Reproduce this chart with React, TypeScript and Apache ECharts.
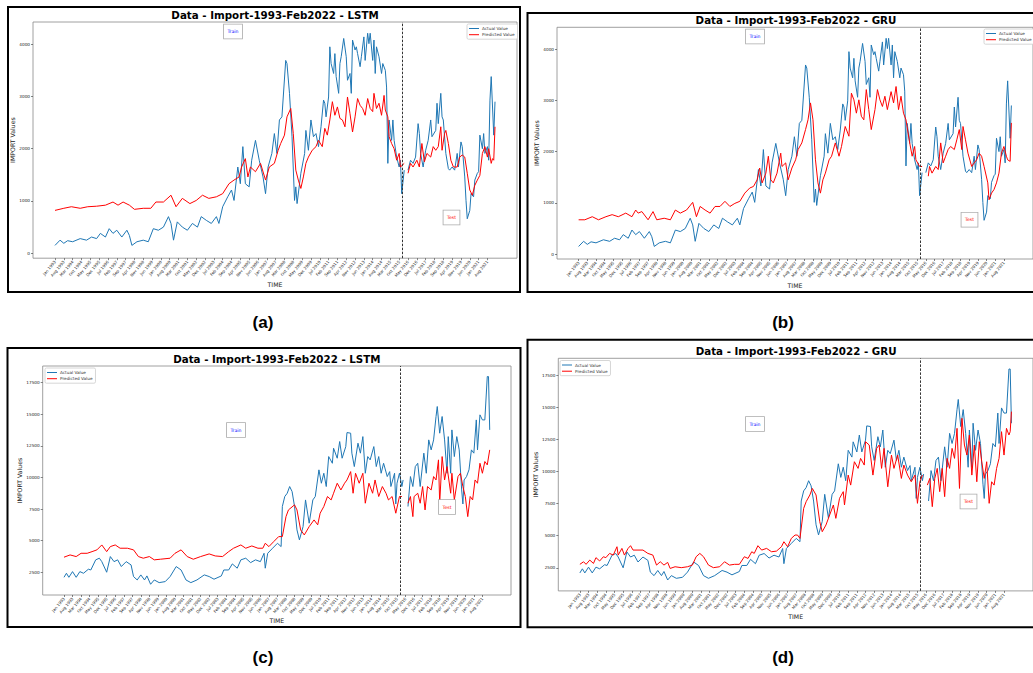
import { useEffect, useRef } from 'react';
import * as echarts from 'echarts';

const MONTHS = ['Jan', 'Feb', 'Mar', 'Apr', 'May', 'Jun', 'Jul', 'Aug', 'Sep', 'Oct', 'Nov', 'Dec'];
const START_YEAR = 1993;
// tick every 7 months, Jan 1993 .. Aug 2021 (month index from Jan 1993)
const X_TICKS: number[] = [];
for (let i = 0; i <= 343; i += 7) X_TICKS.push(i);
const monthLabel = (i: number) => `${MONTHS[i % 12]} ${START_YEAR + Math.floor(i / 12)}`;

const Y_TICKS_AB = [0, 1000, 2000, 3000, 4000];
const Y_TICKS_CD = [2500, 5000, 7500, 10000, 12500, 15000, 17500];
const TRAIN_END = 275.5;

// [month index since Jan 1993, value]
const ACTUAL_AB_TRAIN = [[0,150],[4,250],[7,190],[10,240],[14,220],[20,280],[25,250],[29,310],[33,280],[36,380],[40,310],[43,470],[46,380],[49,440],[53,310],[57,440],[59,340],[61,150],[65,220],[70,250],[74,220],[78,470],[82,440],[86,500],[90,700],[92,570],[94,250],[97,600],[101,500],[105,440],[109,570],[113,500],[116,700],[120,630],[124,570],[128,700],[130,570],[133,890],[137,1080],[140,1210],[142,1010],[145,1650],[147,1330],[149,2040],[151,1330],[154,1270],[156,1780],[159,2160],[162,1780],[165,1460],[167,1140],[169,1650],[172,1910],[174,2290],[176,1910],[178,2550],[180,2610],[183,3690],[184,3630],[186,3060],[188,2230],[190,1010],[191,1270],[192,950],[195,1530],[198,1910],[199,2350],[201,1970],[203,2550],[205,2230],[207,2290],[209,2040],[211,2420],[213,2930],[214,2870],[215,2610],[217,2990],[218,3950],[219,3630],[221,3440],[222,3820],[223,3380],[225,3060],[226,3630],[227,3760],[229,4110],[231,3760],[232,3310],[234,3440],[235,3060],[236,4080],[238,3890],[239,3950],[240,3820],[242,3570],[243,3760],[245,4140],[246,3690],[248,4210],[249,4010],[250,4210],[252,3690],[253,4080],[254,3440],[255,3950],[257,3760],[259,3440],[260,3630],[262,3500],[263,3180],[264,1720],[265,2550],[267,2160],[268,2550],[269,2160],[271,1840],[273,1650],[274,1780],[275,1140],[277,1590]];
const ACTUAL_AB_TEST = [[280,1590],[282,1780],[284,1720],[286,1840],[288,2480],[289,2290],[290,1910],[292,1650],[294,1970],[296,2160],[298,2550],[299,2230],[302,2350],[303,2870],[304,2480],[306,3060],[307,2610],[308,2550],[310,1910],[312,1620],[313,1590],[315,1650],[317,1590],[319,1910],[320,1650],[322,2130],[323,2040],[325,1460],[326,1010],[327,660],[329,820],[330,1140],[332,1080],[333,1400],[335,1530],[336,1560],[337,2260],[339,2000],[340,2290],[341,1910],[343,2040],[344,1780],[345,2930],[346,3380],[348,2260],[349,2900]];

const PRED_A_TRAIN = [[0,820],[7,860],[13,890],[20,860],[26,890],[33,900],[40,920],[46,980],[50,920],[54,980],[59,920],[63,840],[70,860],[76,860],[80,980],[86,980],[92,1110],[96,890],[101,1050],[107,950],[112,1010],[117,1110],[122,1050],[128,1080],[133,1140],[138,1330],[142,1400],[146,1460],[148,1650],[151,1810],[153,1460],[155,1650],[159,1560],[163,1720],[167,1400],[170,1650],[174,1720],[177,1970],[179,2100],[182,2260],[184,2610],[187,2770],[189,2290],[191,1590],[193,1400],[195,1240],[197,1460],[199,1720],[201,1840],[204,1970],[207,2040],[209,2160],[212,2040],[214,2390],[216,2260],[218,2550],[220,2900],[222,2640],[224,2800],[226,2580],[228,2550],[230,2420],[232,2990],[234,2670],[236,2320],[238,2610],[240,2960],[242,2830],[244,2770],[246,2640],[248,2960],[250,2770],[252,2710],[253,3060],[255,2770],[257,2870],[259,2640],[261,3020],[262,2740],[264,2610],[265,2230],[267,2100],[269,2000],[271,1780],[273,1910],[274,1650],[277,1720]];
const PRED_A_TEST = [[280,1530],[282,1720],[284,1650],[287,1780],[289,1650],[291,2100],[293,1750],[295,1910],[298,1840],[300,2040],[302,1970],[304,2040],[306,2420],[307,1970],[309,2290],[310,2350],[312,2100],[314,1780],[316,1650],[319,1650],[321,1840],[323,1880],[325,1840],[327,1530],[329,1210],[331,1110],[333,1300],[335,1400],[337,1490],[339,1910],[341,2040],[343,1840],[344,2000],[346,1720],[347,1810],[348,1780],[349,2420]];

const PRED_B_TRAIN = [[0,670],[5,670],[11,730],[16,670],[22,730],[27,770],[32,730],[38,800],[43,730],[46,860],[48,800],[51,830],[56,670],[60,830],[63,670],[69,700],[74,670],[78,860],[82,800],[87,860],[92,1010],[95,730],[98,930],[102,860],[106,800],[110,930],[114,930],[118,1030],[122,930],[126,990],[130,1030],[134,1190],[138,1290],[141,1320],[144,1450],[146,1680],[148,1390],[151,1580],[153,1910],[155,1450],[157,1390],[160,1580],[163,1970],[164,1710],[167,1780],[169,1450],[172,1680],[175,1840],[177,2040],[180,2170],[183,2430],[185,2620],[187,2950],[189,2620],[191,1840],[193,1390],[195,1190],[197,1450],[199,1580],[202,1840],[204,1910],[207,2170],[210,1910],[212,2100],[215,2490],[218,2300],[220,3140],[222,3010],[224,2750],[226,3010],[228,2690],[230,2620],[232,3210],[234,2820],[236,2430],[239,2820],[241,3210],[243,3010],[245,2880],[247,3080],[249,2820],[252,3170],[254,2950],[256,3270],[258,2820],[260,3080],[262,2750],[264,2620],[267,2170],[269,1910],[271,2100],[272,1840],[275,1710],[277,1710]];
const PRED_B_TEST = [[282,1520],[283,1710],[285,1580],[288,1710],[290,1650],[292,2170],[294,1780],[296,1910],[298,2040],[300,2100],[303,2040],[305,2230],[307,2430],[309,2040],[310,2490],[312,2230],[314,1970],[317,1710],[319,1780],[321,1840],[323,1970],[325,1910],[327,1710],[330,1390],[331,1060],[333,1190],[335,1260],[337,1390],[339,1580],[341,1970],[343,2100],[345,1910],[346,1840],[348,1810],[349,2560]];

const ACTUAL_CD_TRAIN = [[0,2100],[2,2420],[4,2100],[7,2550],[10,2100],[13,2550],[16,2420],[20,2740],[22,2680],[26,3480],[29,3610],[31,3340],[35,2500],[38,3740],[41,3340],[44,3480],[47,2950],[51,3340],[55,3080],[57,2160],[60,1890],[63,2290],[66,1890],[68,2210],[71,1550],[74,1890],[78,1680],[83,1760],[87,2160],[92,2950],[96,2680],[100,1890],[104,1680],[109,1890],[115,2290],[119,2160],[123,1950],[129,2210],[131,2680],[135,2680],[138,3160],[142,2820],[145,3480],[149,3610],[153,3260],[157,3480],[161,3340],[164,4000],[165,2820],[167,4000],[171,4400],[175,4790],[178,4530],[179,7700],[181,8490],[183,8750],[185,9280],[187,8880],[189,7700],[191,5850],[193,5060],[196,6110],[198,8220],[201,6380],[204,8220],[206,8490],[209,10600],[211,9540],[213,10330],[215,9280],[217,11650],[220,11120],[221,12310],[224,11520],[226,12840],[228,11520],[231,12440],[232,13550],[235,13500],[236,11920],[238,10860],[241,12710],[243,11920],[245,13230],[247,10330],[249,11650],[251,11390],[254,12440],[256,10860],[258,11650],[260,10330],[262,11120],[265,10070],[267,10460],[268,9280],[271,10330],[272,7900],[273,9540],[275,10330],[277,9280],[278,9800]];
const ACTUAL_CD_TEST = [[282,7700],[284,10070],[286,9280],[288,10860],[290,11120],[292,9280],[295,11920],[297,10330],[299,12970],[301,12180],[303,12970],[305,14820],[306,15610],[308,13500],[310,14820],[312,12970],[314,10330],[315,13230],[317,10330],[318,13760],[320,11650],[322,13230],[324,12180],[326,9010],[327,7900],[328,9800],[330,10070],[332,10600],[334,12180],[336,11920],[338,14550],[339,12180],[341,14950],[343,14550],[345,14550],[347,17980],[348,17980],[349,13760]];

const PRED_C_TRAIN = [[0,3690],[5,3870],[10,3740],[14,4000],[19,4000],[23,4130],[27,4270],[31,4660],[35,4130],[38,4530],[42,4660],[46,4400],[52,4400],[57,4270],[61,3740],[65,3610],[70,3740],[74,3480],[79,3530],[87,3610],[91,4000],[96,4270],[101,3740],[106,3530],[112,3740],[119,3950],[124,3790],[130,3740],[135,4130],[139,4400],[145,4660],[149,4400],[154,4580],[159,4400],[163,4400],[165,4790],[168,4530],[172,4930],[176,5320],[179,5320],[182,6900],[184,7430],[189,7830],[191,7430],[194,5850],[197,5450],[201,6110],[205,6640],[208,6250],[210,7170],[213,7700],[216,8490],[219,8220],[221,8750],[224,9540],[227,9010],[230,9540],[232,9800],[235,10460],[237,8750],[239,10330],[242,9540],[245,10330],[247,7960],[250,9540],[253,8750],[255,9800],[258,8490],[261,9280],[264,8750],[266,8220],[269,8490],[272,7170],[275,8490],[277,8490]];
const PRED_C_TEST = [[282,7960],[284,8490],[286,6900],[287,8490],[290,8750],[292,7960],[294,9280],[296,7430],[298,9280],[301,9010],[303,10070],[305,9800],[307,11390],[308,7960],[310,11650],[312,9800],[314,10860],[317,8750],[318,10330],[320,8220],[323,10070],[325,10330],[327,9280],[329,8490],[331,6900],[333,8490],[335,8220],[337,9800],[339,9540],[341,11120],[343,10330],[345,11260],[347,10990],[349,12180]];

const PRED_D_TRAIN = [[0,2770],[3,2970],[5,2770],[8,3100],[11,2840],[13,3290],[16,3030],[19,3360],[21,3290],[24,3620],[27,3490],[30,4140],[31,3490],[34,4010],[36,3490],[39,4010],[41,4220],[43,3880],[47,3880],[51,3880],[55,3620],[59,3490],[62,2710],[65,2970],[68,2710],[71,2920],[73,2450],[77,2580],[82,2510],[87,2580],[91,2710],[94,3360],[97,3620],[100,3360],[104,2710],[108,2510],[113,2580],[117,2970],[121,2710],[125,2770],[129,2770],[133,3360],[136,3230],[139,3750],[141,3620],[144,4220],[147,3880],[151,4010],[155,3750],[159,3800],[163,4140],[165,4530],[168,4140],[171,4790],[174,5050],[176,5050],[178,4790],[181,7130],[183,7650],[186,8170],[188,8680],[191,8170],[194,6090],[196,5310],[199,5830],[202,6610],[205,7390],[207,6350],[210,7910],[213,8430],[214,7390],[217,9720],[219,8940],[222,10760],[225,10240],[227,11020],[230,10500],[231,12320],[234,12060],[237,9720],[240,11800],[242,12060],[244,10240],[246,11800],[249,8810],[252,11280],[254,10240],[257,11280],[260,9460],[262,10500],[265,9720],[268,9200],[271,9720],[273,7520],[275,9200],[277,9720]];
const PRED_D_TEST = [[281,8940],[283,9460],[285,7260],[287,9460],[289,10240],[291,8430],[293,10240],[295,8040],[297,11020],[299,10240],[301,11800],[303,11020],[305,13360],[307,8680],[309,14140],[311,12060],[313,11280],[315,12840],[317,9720],[319,12060],[321,9200],[323,12320],[325,10760],[327,9460],[329,10760],[331,7520],[333,9200],[335,8940],[337,10240],[339,11020],[341,13100],[343,11280],[345,13360],[347,12840],[348,13100],[349,14660]];

const BLUE = '#1f77b4';
const RED = '#ff0000';
const FONT = '"DejaVu Sans", sans-serif';

const PANELS = [
  {
    tag: '(a)', tagX: 263, tagY: 322, title: 'Data - Import-1993-Feb2022 - LSTM',
    frame: { x: 8, y: 7, width: 512, height: 285 },
    grid: { left: 33, top: 22, width: 484, height: 236.2 },
    yMin: -95, yMax: 4425, yTicks: Y_TICKS_AB, xNameGap: 23, yNameGap: 17,
    actual: [ACTUAL_AB_TRAIN, ACTUAL_AB_TEST], pred: [PRED_A_TRAIN, PRED_A_TEST],
    legend: { left: 467, top: 24 }, train: [233, 31.5], test: [451.5, 217.5],
  },
  {
    tag: '(b)', tagX: 783, tagY: 322, title: 'Data - Import-1993-Feb2022 - GRU',
    frame: { x: 527.5, y: 13, width: 520, height: 279 },
    grid: { left: 557, top: 27.3, width: 478, height: 231.7 },
    yMin: -95, yMax: 4425, yTicks: Y_TICKS_AB, xNameGap: 23, yNameGap: 16,
    actual: [ACTUAL_AB_TRAIN, ACTUAL_AB_TEST], pred: [PRED_B_TRAIN, PRED_B_TEST],
    legend: { left: 984, top: 29 }, train: [755, 36.5], test: [969.5, 219.7],
  },
  {
    tag: '(c)', tagX: 263, tagY: 657, title: 'Data - Import-1993-Feb2022 - LSTM',
    frame: { x: 7.5, y: 348, width: 513, height: 279 },
    grid: { left: 42.7, top: 366, width: 468.3, height: 229 },
    yMin: 700, yMax: 18815, yTicks: Y_TICKS_CD, xNameGap: 22, yNameGap: 20,
    actual: [ACTUAL_CD_TRAIN, ACTUAL_CD_TEST], pred: [PRED_C_TRAIN, PRED_C_TEST],
    legend: { left: 45, top: 368 }, train: [236, 430], test: [447, 507],
  },
  {
    tag: '(d)', tagX: 783, tagY: 657, title: 'Data - Import-1993-Feb2022 - GRU',
    frame: { x: 527.5, y: 339.7, width: 520, height: 287.6 },
    grid: { left: 558.3, top: 358.3, width: 475.6, height: 232.6 },
    yMin: 700, yMax: 18815, yTicks: Y_TICKS_CD, xNameGap: 22, yNameGap: 20,
    actual: [ACTUAL_CD_TRAIN, ACTUAL_CD_TEST], pred: [PRED_D_TRAIN, PRED_D_TEST],
    legend: { left: 560, top: 360.5 }, train: [755, 424], test: [968.5, 501.5],
  },
];

function boxText(text: string, x: number, y: number, color: string) {
  return {
    type: 'text', z: 100, x, y,
    style: {
      text, fill: color, font: `4.6px ${FONT}`, align: 'center', verticalAlign: 'middle',
      backgroundColor: '#fff', borderColor: '#aaa', borderWidth: 0.8, padding: [4.5, 3.5],
    },
  };
}

export default function App() {
  const ref = useRef<HTMLDivElement>(null);
  useEffect(() => {
    if (!ref.current) return;
    const chart = echarts.init(ref.current, undefined, { renderer: 'svg' });
    const grids: any[] = [];
    const xAxes: any[] = [];
    const yAxes: any[] = [];
    const series: any[] = [];
    const legends: any[] = [];
    const graphics: any[] = [];
    PANELS.forEach((p, i) => {
      grids.push({ ...p.grid, show: true, borderColor: '#888', borderWidth: 0.8, containLabel: false });
      xAxes.push({
        type: 'value', gridIndex: i, min: -17.45, max: 366.45, position: 'bottom',
        splitLine: { show: false }, axisLine: { show: false, onZero: false },
        axisTick: { show: true, customValues: X_TICKS, length: 2, lineStyle: { color: '#333', width: 0.6 } },
        axisLabel: {
          customValues: X_TICKS, formatter: (v: number) => monthLabel(Math.round(v)),
          rotate: 50, fontSize: 4, color: '#222', margin: 3, fontFamily: FONT,
        },
        name: 'TIME', nameLocation: 'middle', nameGap: p.xNameGap,
        nameTextStyle: { fontSize: 6.2, color: '#222', fontFamily: FONT },
      });
      yAxes.push({
        type: 'value', gridIndex: i, min: p.yMin, max: p.yMax, position: 'left',
        splitLine: { show: false }, axisLine: { show: false, onZero: false },
        axisTick: { show: true, customValues: p.yTicks, length: 2, lineStyle: { color: '#333', width: 0.6 } },
        axisLabel: {
          customValues: p.yTicks, formatter: (v: number) => String(v),
          fontSize: 4.2, color: '#222', margin: 3, fontFamily: FONT,
        },
        name: 'IMPORT Values', nameLocation: 'middle', nameRotate: 90, nameGap: p.yNameGap,
        nameTextStyle: { fontSize: 6.2, color: '#222', fontFamily: FONT },
      });
      const common = { type: 'line', xAxisIndex: i, yAxisIndex: i, symbol: 'none', silent: true };
      series.push({
        ...common, name: 'Actual Value', data: p.actual[0],
        lineStyle: { color: BLUE, width: 1 }, itemStyle: { color: BLUE },
        markLine: {
          silent: true, symbol: ['none', 'none'], label: { show: false },
          lineStyle: { color: '#333', type: [2.5, 1.5], width: 1 },
          data: [{ xAxis: TRAIN_END }],
        },
      });
      series.push({ ...common, name: 'Actual Value', data: p.actual[1], lineStyle: { color: BLUE, width: 1 }, itemStyle: { color: BLUE } });
      series.push({ ...common, name: 'Predicted Value', data: p.pred[0], lineStyle: { color: RED, width: 1 }, itemStyle: { color: RED } });
      series.push({ ...common, name: 'Predicted Value', data: p.pred[1], lineStyle: { color: RED, width: 1 }, itemStyle: { color: RED } });
      legends.push({
        show: true, orient: 'vertical', left: p.legend.left, top: p.legend.top,
        icon: 'rect', itemWidth: 10, itemHeight: 1, itemGap: 2.2, padding: [2.5, 3, 2.5, 2],
        borderColor: '#ccc', borderWidth: 0.8, borderRadius: 1.5, backgroundColor: '#fff',
        selectedMode: false, data: ['Actual Value', 'Predicted Value'],
        textStyle: { fontSize: 4.2, color: '#333', fontFamily: FONT, padding: [0, 0, 0, -2] },
      });
      graphics.push({
        type: 'rect', z: 50, shape: p.frame,
        style: { fill: 'none', stroke: '#000', lineWidth: 2 },
      });
      graphics.push({
        type: 'text', z: 50, x: p.grid.left + p.grid.width / 2, y: p.grid.top - 7,
        style: { text: p.title, fill: '#000', font: `bold 10.3px ${FONT}`, align: 'center', verticalAlign: 'middle' },
      });
      graphics.push({
        type: 'text', z: 50, x: p.tagX, y: p.tagY,
        style: { text: p.tag, fill: '#000', font: 'bold 17px "Liberation Sans", Arial, sans-serif', align: 'center', verticalAlign: 'middle' },
      });
      graphics.push(boxText('Train', p.train[0], p.train[1], '#0000ff'));
      graphics.push(boxText('Test', p.test[0], p.test[1], '#ff0000'));
    });
    chart.setOption({
      animation: false,
      backgroundColor: '#fff',
      grid: grids, xAxis: xAxes, yAxis: yAxes, series, legend: legends, graphic: graphics,
    });
    return () => chart.dispose();
  }, []);
  return <div ref={ref} style={{ position: 'fixed', left: 0, top: 0, width: 1033, height: 673, background: '#fff' }} />;
}
